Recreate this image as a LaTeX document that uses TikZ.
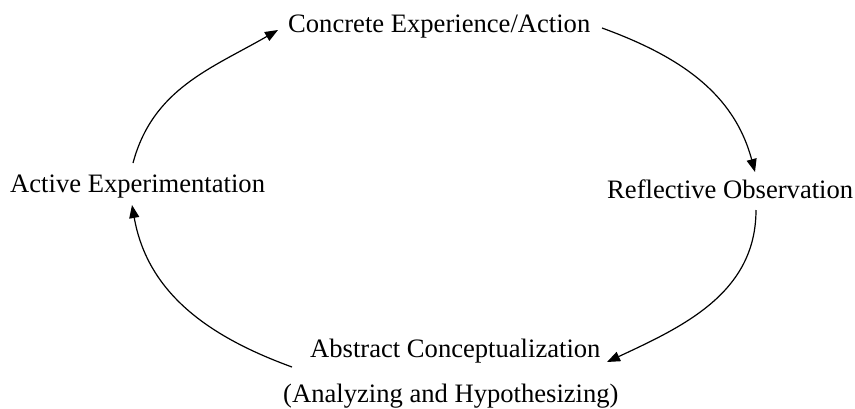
\documentclass[tikz,border=0pt]{standalone}
\usepackage{fontspec}
\setmainfont{Liberation Serif}
\usetikzlibrary{arrows.meta}
\begin{document}
\begin{tikzpicture}[x=1pt,y=-1pt,
  stage/.style={inner sep=0pt,anchor=base west,font=\fontsize{26.6}{32}\selectfont},
  cycle/.style={line width=1.2pt,-{Triangle[length=13pt,width=10pt]}}]
  \useasboundingbox (0,0) rectangle (855,408);
  % the four stages of the cycle
  \node[stage] (ce) at (288,32) {Concrete Experience/Action};
  \node[stage] (ro) at (607,198) {Reflective Observation};
  \node[stage] (ac) at (310,357) {Abstract Conceptualization};
  \node[stage] (ah) at (283,402) {(Analyzing and Hypothesizing)};
  \node[stage] (ae) at (10,192) {Active Experimentation};
  % end points of the curved connectors
  \coordinate (p1) at (602,28);
  \coordinate (q1) at (755,172);
  \coordinate (p2) at (756,210);
  \coordinate (q2) at (607,362);
  \coordinate (p3) at (292,367);
  \coordinate (q3) at (132,205);
  \coordinate (p4) at (133,163);
  \coordinate (q4) at (278,30);
  \draw[cycle] (p1) to[out=-20,in=105] (q1);
  \draw[cycle] (p2) to[out=-90,in=25] (q2);
  \draw[cycle] (p3) to[out=160,in=-80] (q3);
  \draw[cycle] (p4) to[out=75,in=210] (q4);
\end{tikzpicture}
\end{document}
